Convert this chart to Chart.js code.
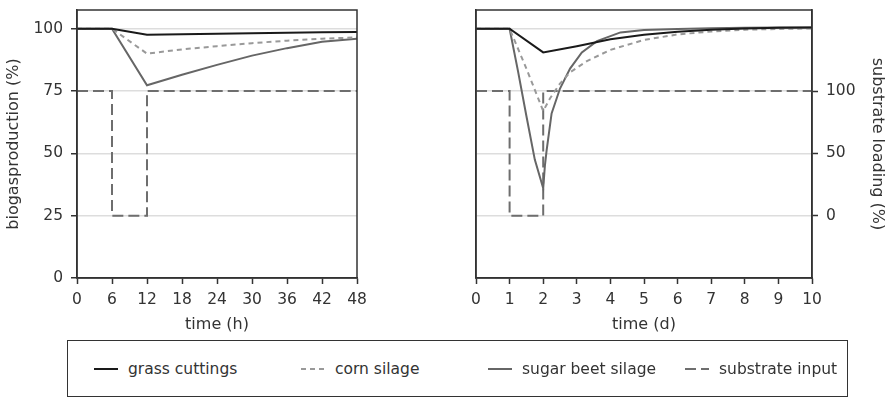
<!DOCTYPE html>
<html>
<head>
<meta charset="utf-8">
<script src="https://cdn.jsdelivr.net/npm/chart.js@4.4.1/dist/chart.umd.min.js"></script>
<style>
  body { margin: 0; background: #fff; width: 887px; height: 399px; position: relative; overflow: hidden; font-family: "DejaVu Sans", sans-serif; color: #333; }
  #hoursChart { position: absolute; left: 0; top: 0; }
  #daysChart { position: absolute; left: 440px; top: 0; }
  #legend { position: absolute; left: 67px; top: 340px; width: 781px; height: 57px; border: 1px solid #333; box-sizing: border-box; }
  .item { position: absolute; top: 0; height: 55px; display: flex; align-items: center; font-size: 15.5px; white-space: nowrap; }
  .item svg { margin-right: 10px; }
</style>
</head>
<body>
<canvas id="hoursChart" width="455" height="340"></canvas>
<canvas id="daysChart" width="447" height="340"></canvas>
<div id="legend"></div>
<script>
// ---- data: left panel, time in hours ----
const hours = [0, 6, 12, 18, 24, 30, 36, 42, 48];
const grassH = [100, 100, 97.6, 97.8, 98.0, 98.2, 98.4, 98.6, 98.7];
const cornH = [100, 100, 90.0, 91.7, 93.0, 94.2, 95.2, 96.0, 96.5];
const beetH = [100, 100, 77.3, 81.5, 85.5, 89.2, 92.2, 94.8, 96.0];
const inputHoursT = [0, 6, 6, 12, 12, 48];
const inputH = [100, 100, 0, 0, 100, 100];

// ---- data: right panel, time in days ----
const grassDaysT = [0, 1, 2, 3, 4, 5, 6, 7, 8, 9, 10];
const grassD = [100, 100, 90.5, 93.0, 95.8, 97.6, 98.8, 99.6, 100.1, 100.4, 100.5];
const cornDaysT = [0, 1, 1.5, 2, 2.2, 2.5, 2.8, 3.3, 4, 5, 6, 7, 8, 9, 10];
const cornD = [100, 100, 84, 67, 72, 78, 82.5, 87, 91.5, 95.5, 97.7, 98.9, 99.6, 99.9, 100.1];
const beetDaysT = [0, 1, 1.25, 1.5, 1.75, 2, 2.05, 2.1, 2.25, 2.5, 2.8, 3.15, 3.6, 4.3, 5, 6, 7, 8, 9, 10];
const beetD = [100, 100, 83, 65, 47.5, 36, 45, 51, 66, 76, 84, 90.5, 95, 98.5, 99.5, 99.9, 100.2, 100.4, 100.5, 100.5];
const inputDaysT = [0, 1, 1, 2, 2, 10];
const inputD = [100, 100, 0, 0, 100, 100];

// ---- ticks / labels ----
const bioTicks = [0, 25, 50, 75, 100];
const loadTicks = [0, 50, 100];
const seriesNames = ['grass cuttings', 'corn silage', 'sugar beet silage', 'substrate input'];

const AXIS = '#333';
const TICKFONT = { family: 'DejaVu Sans', size: 15.5 };
const FONT = { family: 'DejaVu Sans', size: 16 };

const styles = [
    { borderColor: '#1a1a1a', borderWidth: 2, borderDash: [] },
    { borderColor: '#999999', borderWidth: 2, borderDash: [5, 4] },
    { borderColor: '#666666', borderWidth: 2, borderDash: [] },
    { borderColor: '#6e6e6e', borderWidth: 2, borderDash: [11, 5] }
];

function pts(xs, ys) {
    return xs.map((x, i) => ({ x: x, y: ys[i] }));
}

function makeSets(pairs) {
    return pairs.map((p, i) => Object.assign({
        label: seriesNames[i],
        data: pts(p[0], p[1]),
        yAxisID: i === 3 ? 'yLoad' : 'y',
        pointRadius: 0,
        tension: 0,
        fill: false
    }, styles[i]));
}

// frame round the plot area
const framePlugin = {
    id: 'frame',
    afterDraw(chart) {
        const a = chart.chartArea;
        const ctx = chart.ctx;
        ctx.save();
        ctx.strokeStyle = AXIS;
        ctx.lineWidth = 1.5;
        ctx.strokeRect(a.left, a.top, a.right - a.left, a.bottom - a.top);
        ctx.restore();
    }
};

function xAxis(max, step, title) {
    return {
        type: 'linear', min: 0, max: max,
        ticks: { stepSize: step, font: TICKFONT, color: AXIS, padding: 7, maxRotation: 0 },
        grid: { drawOnChartArea: false, tickLength: 6, tickColor: AXIS, tickWidth: 1.5 },
        border: { color: AXIS, width: 1.5 },
        title: { display: true, text: title, font: FONT, color: AXIS, padding: { top: 0, bottom: 6 } },
        afterFit: s => { s.height = 62; }
    };
}

function bioAxis(showLabels) {
    return {
        min: 0, max: 107.5,
        afterBuildTicks: s => { s.ticks = bioTicks.map(v => ({ value: v })); },
        ticks: { display: showLabels, font: TICKFONT, color: AXIS, padding: 8 },
        grid: {
            color: c => c.tick && c.tick.value === 0 ? 'rgba(0,0,0,0)' : '#dddddd',
            lineWidth: 1.5,
            drawTicks: showLabels, tickLength: 6, tickColor: AXIS, tickWidth: 1.5
        },
        border: { color: AXIS, width: 1.5 },
        title: { display: showLabels, text: 'biogasproduction (%)', font: FONT, color: AXIS, padding: { top: 4, bottom: 0 } },
        afterFit: s => { s.width = showLabels ? 77 : 36; s.paddingTop = 0; s.paddingBottom = 0; }
    };
}

function loadAxis(show) {
    return {
        display: show, position: 'right',
        min: -50, max: 165,
        afterBuildTicks: s => { s.ticks = loadTicks.map(v => ({ value: v })); },
        ticks: { font: TICKFONT, color: AXIS, padding: 8 },
        grid: { drawOnChartArea: false, tickLength: 6, tickColor: AXIS, tickWidth: 1.5 },
        border: { color: AXIS, width: 1.5 },
        title: { display: true, text: 'substrate loading (%)', font: FONT, color: AXIS, padding: { top: 0, bottom: 0 } },
        afterFit: s => { s.width = 75; s.paddingTop = 0; s.paddingBottom = 0; }
    };
}

const common = {
    responsive: false,
    animation: false,
    plugins: { legend: { display: false }, tooltip: { enabled: false } }
};

new Chart(document.getElementById('hoursChart'), {
    type: 'line',
    data: {
        datasets: makeSets([[hours, grassH], [hours, cornH], [hours, beetH], [inputHoursT, inputH]])
    },
    options: Object.assign({}, common, {
        layout: { padding: { top: 10, right: 23, left: 0, bottom: 0 } },
        scales: { x: xAxis(48, 6, 'time (h)'), y: bioAxis(true), yLoad: loadAxis(false) }
    }),
    plugins: [framePlugin]
});

new Chart(document.getElementById('daysChart'), {
    type: 'line',
    data: {
        datasets: makeSets([[grassDaysT, grassD], [cornDaysT, cornD], [beetDaysT, beetD], [inputDaysT, inputD]])
    },
    options: Object.assign({}, common, {
        layout: { padding: { top: 10, right: 0, left: 0, bottom: 0 } },
        scales: { x: xAxis(10, 1, 'time (d)'), y: bioAxis(false), yLoad: loadAxis(true) }
    }),
    plugins: [framePlugin]
});

// legend box below both panels
const legendLeft = [26, 233, 420, 617];
const legend = document.getElementById('legend');
seriesNames.forEach((name, i) => {
    const st = styles[i];
    const div = document.createElement('div');
    div.className = 'item';
    div.style.left = legendLeft[i] + 'px';
    div.innerHTML = '<svg width="24" height="4"><line x1="0" y1="2" x2="24" y2="2" stroke="' + st.borderColor +
        '" stroke-width="2" stroke-dasharray="' + (st.borderDash.length ? st.borderDash.join(',') : 'none') + '"/></svg>' +
        '<span>' + name + '</span>';
    legend.appendChild(div);
});
</script>
</body>
</html>
